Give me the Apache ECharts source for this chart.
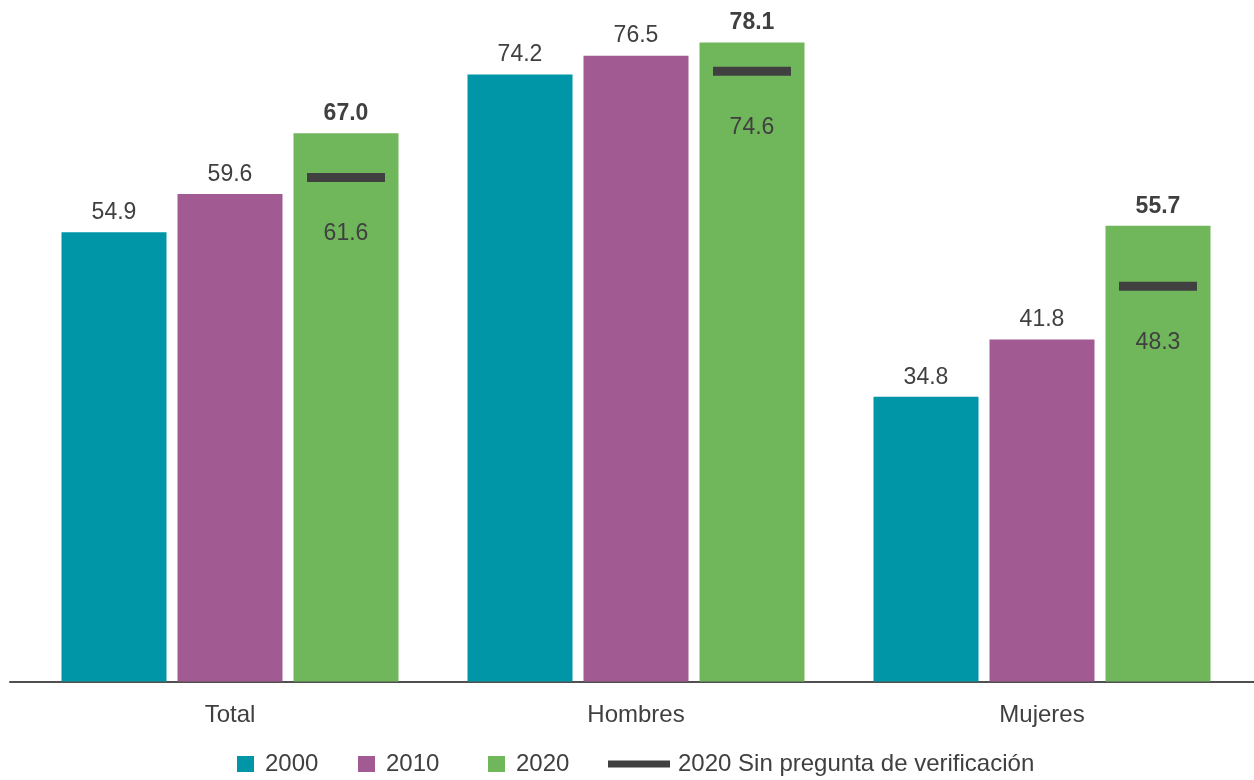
<!DOCTYPE html>
<html><head><meta charset="utf-8">
<script src="https://cdn.jsdelivr.net/npm/echarts@6/dist/echarts.min.js"></script>
<style>html,body{margin:0;padding:0;background:#fff}#c{width:1254px;height:780px}</style>
</head><body><div id="c"></div>
<script>
const categories = ['Total', 'Hombres', 'Mujeres'];
const v2000 = [54.9, 74.2, 34.8];
const v2010 = [59.6, 76.5, 41.8];
const v2020 = [67.0, 78.1, 55.7];
const v2020SinVerif = [61.6, 74.6, 48.3];
const seriesNames = ['2000', '2010', '2020', '2020 Sin pregunta de verificación'];

const FONT = '"Liberation Sans", Arial, sans-serif';
const TXT = '#404040';
const colors = ['#0096A8', '#A25A93', '#70B75B'];
const BAR_W = 105, BAR_GAP = 11;
const LBL = 23, BIG = 24;

const chart = echarts.init(document.getElementById('c'), null, {renderer: 'canvas'});

function barSeries(name, data, color, bold) {
  return {
    name, type: 'bar', data, xAxisIndex: 0, yAxisIndex: 0,
    barWidth: BAR_W, barGap: (BAR_GAP / BAR_W * 100) + '%',
    itemStyle: {color},
    label: {show: true, position: 'top', distance: 8, color: TXT, fontFamily: FONT, fontSize: LBL,
      fontWeight: bold ? 'bold' : 'normal', formatter: p => p.value.toFixed(1)},
    emphasis: {disabled: true}
  };
}

const LEG_TOP = 752;
function sqLegend(name, left) {
  return {data: [name], left, top: LEG_TOP, padding: 0, itemWidth: 17, itemHeight: 16, icon: 'rect',
    textStyle: {color: TXT, fontSize: BIG, fontFamily: FONT, padding: [0, 0, 0, 6]}, selectedMode: false};
}

chart.setOption({
  animation: false,
  textStyle: {fontFamily: FONT},
  grid: [
    {left: 27, right: 9, top: 27, bottom: 98.5},
    {left: 10, right: 0, top: 27, bottom: 98.5}
  ],
  legend: [
    sqLegend(seriesNames[0], 237),
    sqLegend(seriesNames[1], 358),
    sqLegend(seriesNames[2], 488),
    {data: [{name: seriesNames[3], icon: 'rect', itemStyle: {color: '#404040'}}], left: 608, top: LEG_TOP,
      padding: 0, itemWidth: 62, itemHeight: 7,
      textStyle: {color: TXT, fontSize: BIG, fontFamily: FONT, padding: [0, 0, 0, 3]},
      selectedMode: false}
  ],
  xAxis: [
    {type: 'category', data: categories, gridIndex: 0,
      axisLine: {show: false}, axisTick: {show: false},
      axisLabel: {color: TXT, fontSize: BIG, fontFamily: FONT, margin: 22}},
    {type: 'category', data: [''], gridIndex: 1,
      axisLine: {show: true, lineStyle: {color: '#505050', width: 2}}, axisTick: {show: false},
      axisLabel: {show: false}}
  ],
  yAxis: [
    {type: 'value', min: 0, max: 80, gridIndex: 0, show: false},
    {type: 'value', min: 0, max: 80, gridIndex: 1, show: false}
  ],
  series: [
    barSeries(seriesNames[0], v2000, colors[0], false),
    barSeries(seriesNames[1], v2010, colors[1], false),
    barSeries(seriesNames[2], v2020, colors[2], true),
    {
      name: seriesNames[3], type: 'custom', xAxisIndex: 0, yAxisIndex: 0,
      itemStyle: {color: '#404040'},
      data: v2020SinVerif.map((v, i) => [i, v]),
      renderItem: function (params, api) {
        const pt = api.coord([api.value(0), api.value(1)]);
        const cx = pt[0] + BAR_W + BAR_GAP;
        return {
          type: 'group',
          children: [
            {type: 'rect', shape: {x: cx - 39, y: pt[1] - 4.5, width: 78, height: 9},
              style: {fill: '#404040'}},
            {type: 'text', x: cx, y: pt[1] + 56,
              style: {text: api.value(1).toFixed(1), fill: TXT, font: LBL + 'px ' + FONT,
                textAlign: 'center', textVerticalAlign: 'middle'}}
          ]
        };
      },
      z: 5
    }
  ]
});
</script></body></html>
